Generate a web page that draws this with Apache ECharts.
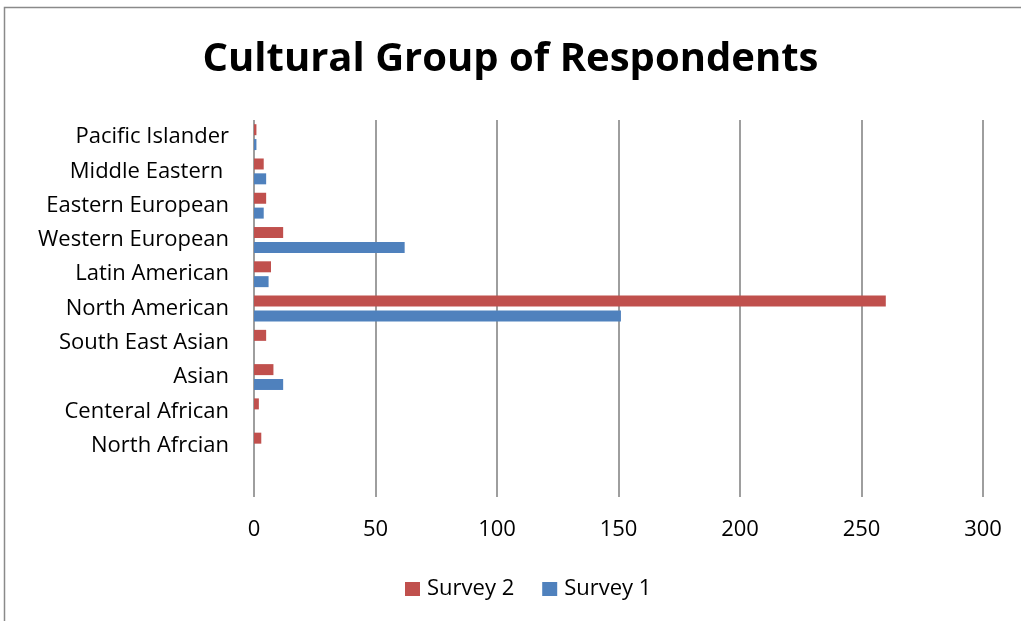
<!DOCTYPE html>
<html>
<head>
<meta charset="utf-8">
<script src="https://cdn.jsdelivr.net/npm/echarts@6/dist/echarts.min.js"></script>
<style>
  html, body { margin: 0; padding: 0; background: #fff; }
  #chart { width: 1021px; height: 621px; }
</style>
</head>
<body>
<div id="chart"></div>
<script>
// Cultural groups, listed top to bottom; the last slot is an empty spacer row
const categories = [
  'Pacific Islander', 'Middle Eastern ', 'Eastern European', 'Western European',
  'Latin American', 'North American', 'South East Asian', 'Asian',
  'Centeral African', 'North Afrcian', ''
];
const survey2 = [1, 4, 5, 12, 7, 260, 5, 8, 2, 3, null];
const survey1 = [1, 5, 4, 62, 6, 151, 0, 12, 0, 0, null];
const xTicks = { min: 0, max: 300, step: 50 };

const FONT = '"Open Sans", Lato, sans-serif';

const chart = echarts.init(document.getElementById('chart'));
chart.setOption({
  animation: false,
  backgroundColor: '#fff',
  graphic: [{
    type: 'rect',
    shape: { x: 4.5, y: 7.5, width: 1100, height: 700 },
    style: { fill: 'none', stroke: '#8a8a8a', lineWidth: 1.5 },
    silent: true
  }],
  title: {
    text: 'Cultural Group of Respondents',
    left: 'center',
    top: 35,
    textStyle: { fontFamily: FONT, fontWeight: 'bold', fontSize: 40, color: '#000' }
  },
  legend: {
    bottom: 16,
    left: 400,
    itemWidth: 15,
    itemHeight: 14,
    itemGap: 28,
    icon: 'rect',
    textStyle: { fontFamily: FONT, fontSize: 22, color: '#000', padding: [0, 0, 0, 2] },
    data: ['Survey 2', 'Survey 1']
  },
  grid: { left: 254, right: 38, top: 120, bottom: 124, containLabel: false },
  xAxis: {
    type: 'value',
    min: xTicks.min,
    max: xTicks.max,
    interval: xTicks.step,
    axisLine: { show: false },
    axisTick: { show: false },
    axisLabel: { margin: 22, fontFamily: FONT, fontSize: 22, color: '#000' },
    splitLine: { show: true, lineStyle: { color: '#868686', width: 1.6 } }
  },
  yAxis: {
    type: 'category',
    inverse: true,
    data: categories,
    axisLine: { show: false },
    axisTick: { show: false },
    axisLabel: { margin: 25, fontFamily: FONT, fontSize: 22, color: '#000' }
  },
  series: [
    {
      name: 'Survey 2', type: 'bar', data: survey2,
      barWidth: 11, barGap: '35%',
      itemStyle: { color: '#C0504D' }
    },
    {
      name: 'Survey 1', type: 'bar', data: survey1,
      barWidth: 11, barGap: '35%',
      itemStyle: { color: '#4F81BD' }
    }
  ]
});
</script>
</body>
</html>
